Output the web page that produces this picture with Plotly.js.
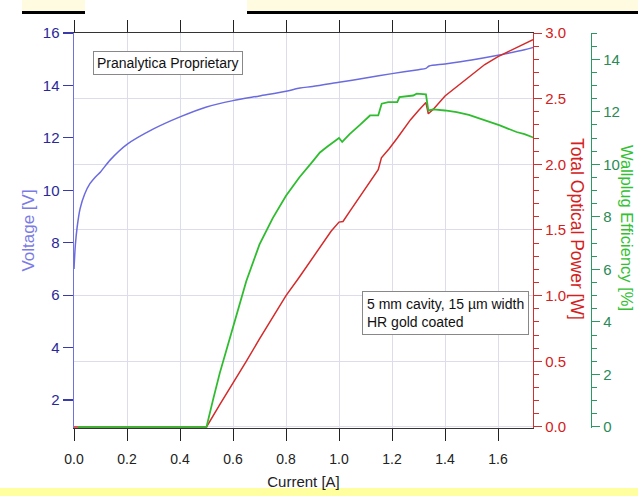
<!DOCTYPE html>
<html>
<head>
<meta charset="utf-8">
<script src="https://cdn.plot.ly/plotly-3.0.1.min.js"></script>
<style>html,body{margin:0;padding:0;background:#fff;}#chart{width:638px;height:496px;}</style>
</head>
<body>
<div id="chart"></div>
<script>
// Voltage vs current
const currentV = [0, 0.005, 0.012, 0.023, 0.04, 0.06, 0.08, 0.1, 0.136, 0.2, 0.3, 0.4, 0.5, 0.6, 0.7, 0.8, 0.853, 0.9, 1.0, 1.1, 1.2, 1.3, 1.328, 1.34, 1.4, 1.5, 1.6, 1.7, 1.733];
const voltage  = [7.0, 7.9, 8.6, 9.3, 9.85, 10.25, 10.5, 10.7, 11.15, 11.75, 12.34, 12.8, 13.18, 13.42, 13.6, 13.78, 13.9, 13.96, 14.12, 14.28, 14.45, 14.6, 14.65, 14.74, 14.82, 14.97, 15.15, 15.36, 15.45];

// Total optical power vs current
const currentP = [0, 0.5, 0.55, 0.6, 0.65, 0.7, 0.75, 0.8, 0.85, 0.9, 0.94, 0.97, 1.0, 1.015, 1.04, 1.07, 1.1, 1.13, 1.148, 1.16, 1.19, 1.22, 1.25, 1.27, 1.3, 1.328, 1.337, 1.356, 1.4, 1.45, 1.5, 1.55, 1.6, 1.65, 1.7, 1.732];
const power    = [0, 0, 0.17, 0.33, 0.5, 0.67, 0.83, 1.0, 1.14, 1.29, 1.41, 1.49, 1.56, 1.565, 1.64, 1.73, 1.82, 1.9, 1.96, 2.05, 2.12, 2.2, 2.29, 2.34, 2.41, 2.47, 2.385, 2.42, 2.52, 2.6, 2.68, 2.76, 2.82, 2.87, 2.92, 2.95];

// Wallplug efficiency vs current
const currentE   = [0.015, 0.5, 0.525, 0.55, 0.6, 0.65, 0.7, 0.75, 0.8, 0.85, 0.9, 0.928, 0.954, 0.98, 1.0, 1.012, 1.04, 1.079, 1.117, 1.148, 1.161, 1.186, 1.22, 1.228, 1.28, 1.293, 1.328, 1.337, 1.356, 1.4, 1.444, 1.49, 1.532, 1.57, 1.607, 1.67, 1.7, 1.733];
const efficiency = [0, 0, 1.05, 2.05, 3.8, 5.55, 6.95, 7.95, 8.8, 9.5, 10.1, 10.45, 10.66, 10.85, 11.0, 10.85, 11.15, 11.5, 11.86, 11.86, 12.31, 12.37, 12.37, 12.56, 12.62, 12.69, 12.66, 12.05, 12.09, 12.05, 11.99, 11.88, 11.74, 11.6, 11.48, 11.23, 11.15, 11.02];

const xTitle = 'Current [A]';
const yTitle = 'Voltage [V]';
const y2Title = 'Total Optical Power [W]';
const y3Title = 'Wallplug Efficiency [%]';
const note1 = 'Pranalytica Proprietary';
const note2 = '5 mm cavity, 15 \u00b5m width<br>HR gold coated';

const FONT = 'Liberation Sans, Arial, sans-serif';
const W = 638, H = 496, ML = 74, MR = 20, MT = 33, MB = 68;
const plotW = W - ML - MR, plotH = H - MT - MB;
const px = x => (x - ML) / plotW;      // pixel -> paper x
const py = y => (H - MB - y) / plotH;  // pixel -> paper y

const traces = [
  {x: currentV, y: voltage, yaxis: 'y', type: 'scatter', mode: 'lines',
   line: {color: '#6b6be0', width: 1.5, shape: 'spline', smoothing: 0.8}, hoverinfo: 'skip'},
  {x: currentP, y: power, yaxis: 'y2', type: 'scatter', mode: 'lines',
   line: {color: '#d42a2a', width: 1.5}, hoverinfo: 'skip'},
  {x: currentE, y: efficiency, yaxis: 'y3', type: 'scatter', mode: 'lines',
   line: {color: '#2fbd2f', width: 1.8}, hoverinfo: 'skip'}
];

const layout = {
  width: W, height: H,
  margin: {l: ML, r: MR, t: MT, b: MB, pad: 0},
  paper_bgcolor: '#ffffff', plot_bgcolor: '#ffffff',
  showlegend: false,
  font: {family: FONT, size: 14, color: '#222'},
  xaxis: {
    domain: [0, 459 / plotW], range: [0, 1.732],
    dtick: 0.2, tick0: 0, tickformat: '.1f',
    ticks: 'outside', ticklen: 12, tickcolor: '#222', tickwidth: 1,
    ticklabelstandoff: 6,
    showline: true, linecolor: '#333', linewidth: 1.2, mirror: 'ticks',
    showgrid: true, gridcolor: '#dcdcec', gridwidth: 1, zeroline: false,
    tickfont: {family: FONT, size: 14, color: '#222'},
    title: {text: xTitle, font: {family: FONT, size: 15, color: '#222'}, standoff: 10}
  },
  yaxis: {
    range: [0.93, 16], dtick: 2, tick0: 0,
    ticks: 'outside', ticklen: 10, tickcolor: '#3a3aa8', tickwidth: 1.2,
    showline: true, linecolor: '#7070e0', linewidth: 1.5,
    showgrid: false, zeroline: false,
    tickfont: {family: FONT, size: 15, color: '#28289a'},
    title: {text: yTitle, font: {family: FONT, size: 17, color: '#7b7be6'}, standoff: 4}
  },
  yaxis2: {
    overlaying: 'y', side: 'right', anchor: 'x',
    range: [-0.008, 3.0], dtick: 0.5, tick0: 0, tickformat: '.1f',
    ticks: 'outside', ticklen: 8, tickcolor: '#d03030', tickwidth: 1,
    minor: {dtick: 0.1, ticks: 'outside', ticklen: 5, tickcolor: '#d03030', showgrid: false},
    showline: true, linecolor: '#d03030', linewidth: 1.2,
    showgrid: true, gridcolor: '#dcdcec', gridwidth: 1, zeroline: false,
    tickfont: {family: FONT, size: 15, color: '#d42020'}
  },
  yaxis3: {
    overlaying: 'y', side: 'right', anchor: 'free', position: px(591),
    range: [-0.04, 15], dtick: 2, tick0: 0,
    ticks: 'outside', ticklen: 8, tickcolor: '#2a9a62', tickwidth: 1,
    minor: {dtick: 0.5, ticks: 'outside', ticklen: 5, tickcolor: '#2a9a62', showgrid: false},
    showline: true, linecolor: '#2a9a62', linewidth: 1.2,
    showgrid: false, zeroline: false,
    tickfont: {family: FONT, size: 15, color: '#2a8a58'}
  },
  annotations: [
    {xref: 'paper', yref: 'paper', x: px(577), y: py(229), text: y2Title, textangle: 90,
     showarrow: false, xanchor: 'center', yanchor: 'middle',
     font: {family: FONT, size: 17.5, color: '#d42020'}},
    {xref: 'paper', yref: 'paper', x: px(627), y: py(228), text: y3Title, textangle: 90,
     showarrow: false, xanchor: 'center', yanchor: 'middle',
     font: {family: FONT, size: 16.5, color: '#33c033'}},
    {xref: 'paper', yref: 'paper', x: px(93), y: py(51), text: note1,
     showarrow: false, xanchor: 'left', yanchor: 'top', align: 'left',
     bgcolor: '#ffffff', bordercolor: '#888', borderwidth: 1, borderpad: 3,
     font: {family: FONT, size: 14, color: '#111'}},
    {xref: 'paper', yref: 'paper', x: px(362), y: py(291), text: note2,
     showarrow: false, xanchor: 'left', yanchor: 'top', align: 'left',
     bgcolor: '#ffffff', bordercolor: '#888', borderwidth: 1, borderpad: 4,
     font: {family: FONT, size: 14, color: '#111'}}
  ],
  shapes: [
    {type: 'rect', xref: 'paper', yref: 'paper', x0: px(22), x1: px(85), y0: py(0), y1: py(11),
     fillcolor: '#fffbe0', line: {width: 0}, layer: 'below'},
    {type: 'rect', xref: 'paper', yref: 'paper', x0: px(247), x1: px(640), y0: py(0), y1: py(11),
     fillcolor: '#fffbe0', line: {width: 0}, layer: 'below'},
    {type: 'rect', xref: 'paper', yref: 'paper', x0: px(22), x1: px(85), y0: py(11), y1: py(14),
     fillcolor: '#000', line: {width: 0}},
    {type: 'rect', xref: 'paper', yref: 'paper', x0: px(247), x1: px(640), y0: py(11), y1: py(14),
     fillcolor: '#000', line: {width: 0}},
    {type: 'rect', xref: 'paper', yref: 'paper', x0: px(-2), x1: px(640), y0: py(488), y1: py(498),
     fillcolor: '#ffffa0', line: {width: 0}, layer: 'below'}
  ]
};

Plotly.newPlot('chart', traces, layout, {staticPlot: true, displayModeBar: false});
</script>
</body>
</html>
